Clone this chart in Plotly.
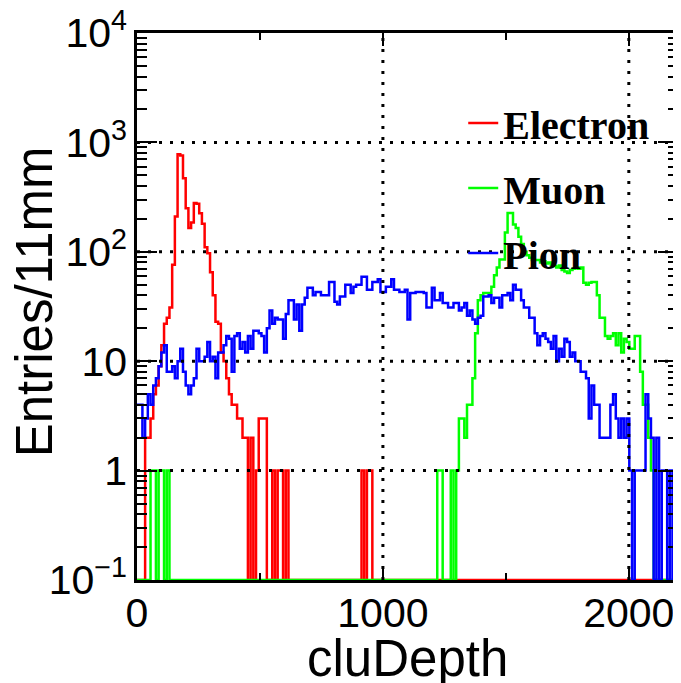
import numpy as np
import plotly.graph_objects as go

# ---------------- data (entries per 11 mm bin, 0..2200 mm) ----------------
bin_width = 11
x_range = [0, 2200]

electron = [
    0, 0, 0, 2, 2, 3, 5, 6, 9, 14,
    22, 25, 31, 76, 210, 780, 760, 470, 250, 165,
    185, 280, 275, 225, 180, 110, 97, 65, 40, 23,
    22, 12, 10, 7, 5, 4, 4, 3, 3, 2,
    2, 0, 2, 0, 1, 3, 3, 3, 0, 0,
    1, 0, 1, 1, 0, 1, 0, 0, 0, 0,
    0, 0, 0, 0, 0, 0, 0, 0, 0, 0,
    0, 0, 0, 0, 0, 0, 0, 0, 0, 0,
    0, 0, 0, 1, 0, 1, 1, 0, 0, 0,
] + [0] * 110

muon = [
    0, 0, 0, 0, 0, 1, 1, 0, 1, 1,
    0, 1, 0, 0, 0, 0, 0, 0, 0, 0,
] + [0] * 90 + [
    0, 1, 1, 0, 0, 0, 1, 0, 1, 3,
    3, 2, 4, 4, 7, 18, 36, 40, 42, 42,
    42, 48, 61, 72, 85, 85, 150, 226, 226, 178,
    165, 137, 118, 100, 93, 88, 84, 84, 84, 80,
    82, 78, 80, 76, 74, 72, 75, 68, 66, 64,
    68, 70, 72, 70, 72, 52, 50, 52, 53, 53,
    40, 25, 25, 17, 16, 17, 18, 14, 18, 12,
    16, 15, 13, 13, 17, 17, 8, 4, 4, 2,
    1, 0, 0, 0, 0, 0, 0, 0, 0, 0,
]

pion = [
    4, 4, 2, 3, 5, 4, 6, 7, 9, 12,
    14, 8, 8, 9, 7, 10, 13, 8, 6, 5,
    6, 7, 13, 10, 10, 11, 15, 10, 11, 7,
    12, 12, 14, 17, 16, 8, 17, 18, 13, 15,
    12, 17, 13, 19, 19, 18, 17, 12, 20, 29,
    22, 25, 24, 24, 16, 27, 36, 36, 24, 33,
    19, 33, 38, 47, 47, 40, 43, 43, 40, 40,
    40, 53, 53, 35, 33, 39, 39, 50, 50, 42,
    48, 50, 50, 59, 59, 45, 45, 53, 53, 56,
    43, 43, 48, 48, 56, 45, 45, 43, 43, 45,
    24, 42, 42, 43, 43, 43, 42, 31, 31, 47,
    36, 36, 42, 34, 34, 31, 31, 34, 34, 29,
    31, 34, 26, 29, 24, 22, 25, 26, 39, 39,
    40, 34, 38, 38, 31, 40, 40, 42, 36, 50,
    45, 45, 36, 31, 31, 25, 25, 18, 14, 17,
    18, 16, 15, 13, 17, 10, 13, 11, 16, 15,
    11, 12, 10, 10, 8, 8, 7, 3, 6, 4,
    4, 2, 2, 2, 2, 4, 5, 3, 2, 3,
    2, 3, 1, 0, 1, 1, 1, 1, 5, 3,
    2, 0, 2, 0, 1, 1, 0, 1, 0, 0,
]

series_names = ["Electron", "Muon", "Pion"]
series_colors = ["#ff0000", "#00ff00", "#0000ff"]

y_tick_vals = [0.1, 1, 10, 100, 1000, 10000]
y_tick_text = ["10<sup>\u22121</sup>", "1", "10", "10<sup>2</sup>", "10<sup>3</sup>", "10<sup>4</sup>"]
x_tick_vals = [0, 1000, 2000]
x_tick_text = ["0", "1000", "2000"]
x_minor_vals = [500, 1500]

# ---------------- figure ----------------
y_log_range = [-1, 4]
y_floor = 10 ** y_log_range[0]
n_bins = len(pion)
edges = np.arange(n_bins + 1) * bin_width


def step_y(vals):
    v = np.asarray(vals, dtype=float)
    v = np.where(v > 0, v, y_floor)  # empty bins drawn on the frame floor (ROOT style)
    return np.append(v, v[-1])


fig = go.Figure()
for name, vals, col in zip(series_names, [electron, muon, pion], series_colors):
    fig.add_trace(go.Scatter(
        x=edges, y=step_y(vals), mode="lines", name=name,
        line=dict(color=col, width=2.5, shape="hv"),
        legendgroup=name, hoverinfo="skip",
    ))

minor_y = [m * 10 ** d for d in range(y_log_range[0], y_log_range[1]) for m in range(2, 10)]

axis_font = dict(family="Liberation Sans, Arial, sans-serif", size=41, color="black")

fig.update_xaxes(
    range=x_range, tickmode="array", tickvals=x_tick_vals, ticktext=x_tick_text,
    ticks="inside", ticklen=13, tickwidth=2, tickcolor="black",
    minor=dict(tickmode="array", tickvals=x_minor_vals, ticks="inside", ticklen=7,
               tickwidth=2, tickcolor="black", showgrid=False),
    showline=True, linewidth=2.5, linecolor="black", mirror="ticks",
    showgrid=False, zeroline=False, tickfont=axis_font, ticklabelstandoff=-5,
    ticklabeloverflow="allow",
)
fig.update_yaxes(
    type="log", range=y_log_range, tickmode="array", tickvals=y_tick_vals, ticktext=y_tick_text,
    ticks="inside", ticklen=20, tickwidth=2, tickcolor="black",
    minor=dict(tickmode="array", tickvals=minor_y, ticks="inside", ticklen=10,
               tickwidth=2, tickcolor="black", showgrid=False),
    showline=True, linewidth=2.5, linecolor="black", mirror="ticks",
    showgrid=False, zeroline=False, tickfont=axis_font, ticklabelstandoff=-1,
    ticklabeloverflow="allow",
)

# dotted grid at labelled ticks (drawn above the histograms as in the original)
grid_line = dict(color="black", width=3, dash="3px,8px")
shapes = []
for v in x_tick_vals:
    if x_range[0] < v < x_range[1]:
        shapes.append(dict(type="line", xref="x", yref="paper", x0=v, x1=v, y0=0, y1=1,
                           line=grid_line, layer="above"))
for v in y_tick_vals:
    lv = np.log10(v)
    if y_log_range[0] < lv < y_log_range[1]:
        shapes.append(dict(type="line", xref="paper", yref="y", x0=0, x1=1, y0=v, y1=v,
                           line=grid_line, layer="above"))

title_font = dict(family="Liberation Sans, Arial, sans-serif", size=51, color="black")
annotations = [
    dict(text="cluDepth", xref="paper", yref="paper", x=0.5, y=-0.143,
         xanchor="center", yanchor="middle", showarrow=False, font=title_font),
    dict(text="Entries/11mm", xref="paper", yref="paper", x=-0.19, y=0.508,
         xanchor="center", yanchor="middle", textangle=-90, showarrow=False, font=title_font),
]

# the page body adds an 8 px offset; figure size/margins compensate for it
fig.update_layout(
    width=673, height=675,
    margin=dict(l=129, r=3, t=25, b=103, autoexpand=False),
    paper_bgcolor="white", plot_bgcolor="white",
    shapes=shapes, annotations=annotations,
    legend=dict(x=0.603, y=0.895, xanchor="left", yanchor="top",
                bgcolor="rgba(0,0,0,0)", borderwidth=0, tracegroupgap=10,
                font=dict(family="Liberation Serif, Times New Roman, serif", size=40,
                          color="black", weight="bold")),
    showlegend=True,
)

fig.write_html("out.html")
